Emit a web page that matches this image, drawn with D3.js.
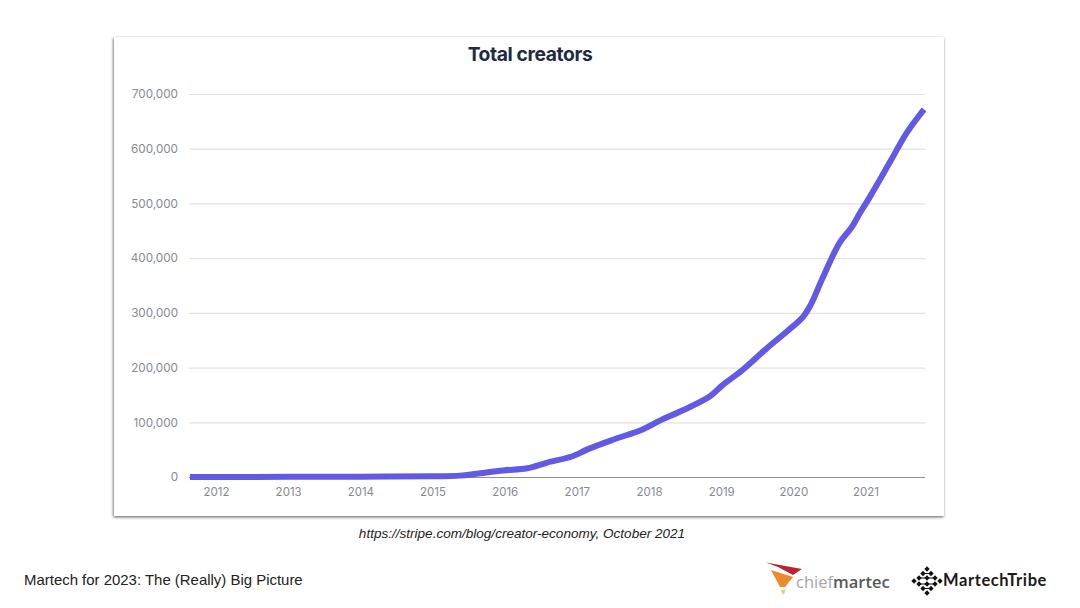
<!DOCTYPE html>
<html>
<head>
<meta charset="utf-8">
<title>Total creators</title>
<script src="https://cdn.jsdelivr.net/npm/d3@7"></script>
<style>
  html, body { margin: 0; padding: 0; background: #fff; }
  svg { display: block; }
  .tick text { font-family: Inter, sans-serif; fill: #858a92; }
</style>
</head>
<body>
<svg id="chart" width="1080" height="608"></svg>
<script>
var years = [2011.64, 2013.02, 2014.0, 2015.0, 2015.38, 2015.61, 2015.98, 2016.31, 2016.58, 2016.94,
  2017.14, 2017.5, 2017.91, 2018.15, 2018.47, 2018.84, 2019.02, 2019.3, 2019.63, 2019.91,
  2020.13, 2020.23, 2020.41, 2020.64, 2020.81, 2020.92, 2021.06, 2021.34, 2021.57, 2021.81];
var creators = [0, 300, 600, 1200, 2500, 6000, 12000, 16000, 26000, 38000,
  50000, 68000, 87000, 103000, 122000, 147000, 168000, 196000, 235000, 266000,
  292000, 312000, 365000, 428000, 457000, 482000, 512000, 576000, 629000, 672000];
var yearTicks = [2012, 2013, 2014, 2015, 2016, 2017, 2018, 2019, 2020, 2021];
var valueTicks = [0, 100000, 200000, 300000, 400000, 500000, 600000, 700000];

var svg = d3.select("#chart");

var defs = svg.append("defs");
var shadow = defs.append("filter").attr("id", "cardShadow")
  .attr("x", "-3%").attr("y", "-3%").attr("width", "106%").attr("height", "106%");
shadow.append("feDropShadow").attr("dx", -0.6).attr("dy", 1.2)
  .attr("stdDeviation", 1.7).attr("flood-color", "#000").attr("flood-opacity", 0.62);

svg.append("rect")
  .attr("x", 114).attr("y", 37).attr("width", 830).attr("height", 479)
  .attr("fill", "#fff").attr("filter", "url(#cardShadow)");

svg.append("text")
  .attr("x", 530).attr("y", 61).attr("text-anchor", "middle")
  .attr("font-family", "Inter, sans-serif").attr("font-weight", 700).attr("font-size", 19.3)
  .attr("letter-spacing", -0.4).attr("fill", "#1c2c42")
  .text("Total creators");

var x = d3.scaleLinear().domain([years[0], years[years.length - 1]]).range([190, 924]);
var y = d3.scaleLinear().domain([0, 700000]).range([477, 94]);

// gridlines come from the y axis ticks
var yAxis = svg.append("g")
  .attr("transform", "translate(189,0)")
  .call(d3.axisLeft(y).tickValues(valueTicks).tickFormat(d3.format(",")).tickSize(-736).tickPadding(11));
yAxis.select(".domain").remove();
yAxis.selectAll("line").attr("stroke", d => d === 0 ? "#8d8f8f" : "#e2e2e2").attr("stroke-width", d => d === 0 ? 1.2 : 1.2);
yAxis.selectAll("text").attr("font-size", 11.7);

var xAxis = svg.append("g")
  .attr("transform", "translate(0,477)")
  .call(d3.axisBottom(x).tickValues(yearTicks).tickFormat(d3.format("d")).tickSize(0).tickPadding(11));
xAxis.select(".domain").remove();
xAxis.selectAll("text").attr("font-size", 11.5);

var line = d3.line()
  .x((d, i) => x(years[i]))
  .y(d => y(d))
  .curve(d3.curveCatmullRom);

svg.append("path")
  .datum(creators)
  .attr("d", line)
  .attr("fill", "none")
  .attr("stroke", "#6259e4")
  .attr("stroke-width", 6)
  .attr("stroke-linejoin", "round");

svg.append("text")
  .attr("x", 522).attr("y", 538).attr("text-anchor", "middle")
  .attr("font-family", "Liberation Sans, sans-serif").attr("font-style", "italic").attr("font-size", 13.55)
  .attr("fill", "#222")
  .text("https://stripe.com/blog/creator-economy, October 2021");

svg.append("text")
  .attr("x", 24).attr("y", 585)
  .attr("font-family", "Liberation Sans, sans-serif").attr("font-size", 14.95)
  .attr("fill", "#222")
  .text("Martech for 2023: The (Really) Big Picture");

// chiefmartec logo
var logo1 = svg.append("g");
logo1.append("path").attr("d", "M766,562.5 L802,569 L793,575 L778,567 Z").attr("fill", "#b8252e");
logo1.append("path").attr("d", "M771,570 L793,577 L785,587 L780,587 Z").attr("fill", "#e98a2b");
logo1.append("path").attr("d", "M781,590 L786,589.5 L784,594 L782,594 Z").attr("fill", "#efd070");
var logo1Text = logo1.append("text")
  .attr("x", 796).attr("y", 588)
  .attr("font-family", "Open Sans, sans-serif").attr("font-size", 16.5);
logo1Text.append("tspan").attr("fill", "#a3a5a7").text("chief");
logo1Text.append("tspan").attr("fill", "#55585b").attr("font-weight", 600).text("martec");

// MartechTribe logo
var dots = [[0, -12], [-4, -7.5], [4, -7.5], [-8, -3], [0, -3], [8, -3], [-13, 0], [13, 0],
  [-8, 3], [0, 3], [8, 3], [-4, 7.5], [4, 7.5], [0, 12]];
var logo2 = svg.append("g").attr("transform", "translate(927,581)");
logo2.append("path")
  .attr("d", "M-8,-3 H8 M-8,3 H8 M-4,-7.5 H4 M-4,7.5 H4")
  .attr("stroke", "#111").attr("stroke-width", 1.2);
logo2.selectAll("rect").data(dots).join("rect")
  .attr("x", -1.9).attr("y", -1.9).attr("width", 3.8).attr("height", 3.8)
  .attr("fill", "#111")
  .attr("transform", d => "translate(" + d[0] + "," + d[1] + ") rotate(45)");
svg.append("text")
  .attr("x", 943).attr("y", 586)
  .attr("font-family", "Lato, sans-serif").attr("font-weight", 700).attr("font-size", 16.5)
  .attr("letter-spacing", 0.6).attr("fill", "#1a1a1a")
  .text("MartechTribe");
</script>
</body>
</html>
